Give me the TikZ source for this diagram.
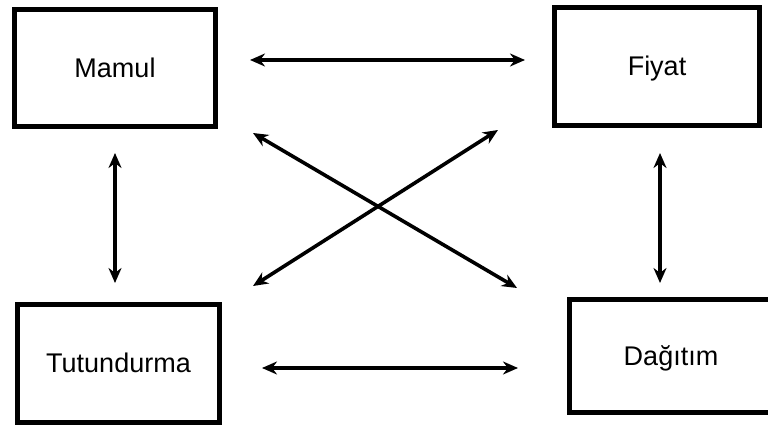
\documentclass[tikz,border=0pt]{standalone}
\usepackage{fontspec}
\setmainfont{Liberation Sans}
\usetikzlibrary{arrows.meta}
\begin{document}
\begin{tikzpicture}[x=1pt,y=-1pt,
  box/.style={draw=black, line width=5pt, rectangle, inner sep=0pt, fill=white,
    text height=19pt, text depth=0pt, font=\fontsize{27}{30}\selectfont},
  arr/.style={line width=3.6pt, {Stealth[length=15pt,width=13pt]}-{Stealth[length=15pt,width=13pt]}}]
\useasboundingbox (0,0) rectangle (768,427);
\fill[white] (0,0) rectangle (768,427);
\begin{scope}
\clip (0,0) rectangle (768,427);
\node[box, minimum width=201pt, minimum height=117pt] (m) at (115,68) {Mamul};
\node[box, minimum width=205pt, minimum height=118pt] (f) at (657,66.5) {Fiyat};
\node[box, minimum width=202pt, minimum height=118pt] (t) at (118.5,363.5) {Tutundurma};
\node[box, minimum width=203pt, minimum height=113pt] (d) at (671,356) {Dağıtım};
\end{scope}
% arrow end points
\coordinate (mf1) at (250,60);  \coordinate (mf2) at (525,60);
\coordinate (td1) at (262,368); \coordinate (td2) at (518,368);
\coordinate (mt1) at (115,153); \coordinate (mt2) at (115,283);
\coordinate (fd1) at (660,153); \coordinate (fd2) at (660,283);
\coordinate (md1) at (253,133); \coordinate (md2) at (517,288);
\coordinate (ft1) at (498,130); \coordinate (ft2) at (253,286);
\draw[arr] (mf1) -- (mf2);
\draw[arr] (td1) -- (td2);
\draw[arr] (mt1) -- (mt2);
\draw[arr] (fd1) -- (fd2);
\draw[arr] (md1) -- (md2);
\draw[arr] (ft1) -- (ft2);
\end{tikzpicture}
\end{document}
